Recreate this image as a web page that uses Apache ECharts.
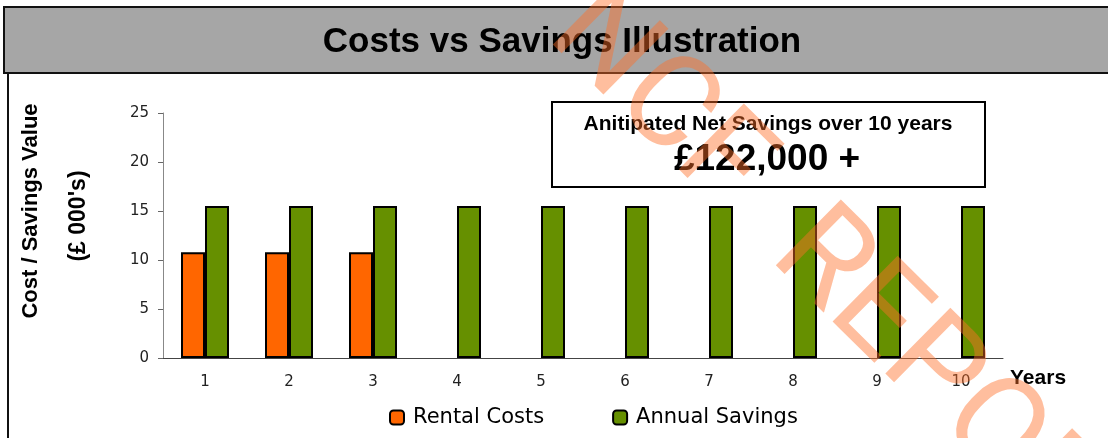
<!DOCTYPE html>
<html>
<head>
<meta charset="utf-8">
<script src="https://cdn.jsdelivr.net/npm/echarts@6/dist/echarts.min.js"></script>
<style>
  html, body { margin: 0; padding: 0; background: #fff; }
  #main { width: 1108px; height: 438px; }
</style>
</head>
<body>
<div id="main"></div>
<script>
// data (values in £ 000's)
var years = ['1', '2', '3', '4', '5', '6', '7', '8', '9', '10'];
var rentalCosts = [10.8, 10.8, 10.8, null, null, null, null, null, null, null];
var annualSavings = [15.5, 15.5, 15.5, 15.5, 15.5, 15.5, 15.5, 15.5, 15.5, 15.5];
var yTicks = [0, 5, 10, 15, 20, 25];

var orange = '#ff6600';
var green = '#669000';

var myChart = echarts.init(document.getElementById('main'));
myChart.setOption({
  backgroundColor: '#fff',
  animation: false,
  grid: { left: 163, right: 105, top: 113, bottom: 80 },
  legend: {
    left: 384,
    top: 402,
    itemWidth: 14,
    itemHeight: 14,
    itemGap: 68,
    textStyle: { fontFamily: 'DejaVu Sans', fontSize: 21, color: '#000', padding: [0, 0, 0, 4] },
    data: ['Rental Costs', 'Annual Savings']
  },
  xAxis: {
    type: 'category',
    data: years,
    axisLine: { lineStyle: { color: '#444', width: 1 } },
    axisTick: { length: 5, lineStyle: { color: '#666' } },
    axisLabel: { margin: 17, fontFamily: 'DejaVu Sans', fontSize: 15, color: '#222' }
  },
  yAxis: {
    type: 'value',
    min: yTicks[0],
    max: yTicks[yTicks.length - 1],
    interval: 5,
    axisLine: { show: true, lineStyle: { color: '#888' } },
    axisTick: { show: true, length: 5, lineStyle: { color: '#666' } },
    splitLine: { show: false },
    axisLabel: { margin: 14, fontFamily: 'DejaVu Sans', fontSize: 15, color: '#222' }
  },
  series: [
    {
      name: 'Rental Costs',
      type: 'bar',
      data: rentalCosts,
      barWidth: 24,
      barGap: '0%',
      itemStyle: { color: orange, borderColor: '#000', borderWidth: 2 }
    },
    {
      name: 'Annual Savings',
      type: 'bar',
      data: annualSavings,
      barWidth: 24,
      itemStyle: { color: green, borderColor: '#000', borderWidth: 2 }
    }
  ],
  graphic: [
    // title band
    { type: 'rect', z: 1, shape: { x: 4, y: 7, width: 1110, height: 66 },
      style: { fill: '#a6a6a6', stroke: '#111', lineWidth: 2 } },
    { type: 'line', z: 1, shape: { x1: 8, y1: 73, x2: 8, y2: 440 },
      style: { stroke: '#111', lineWidth: 2 } },
    { type: 'text', z: 2, x: 562, y: 42,
      style: { text: 'Costs vs Savings Illustration', fill: '#000',
        font: 'bold 35px "Liberation Sans"', align: 'center', verticalAlign: 'middle' } },
    // axis names
    { type: 'text', z: 2, x: 31, y: 211, rotation: Math.PI / 2,
      style: { text: 'Cost / Savings Value', fill: '#000',
        font: 'bold 22px "Liberation Sans"', align: 'center', verticalAlign: 'middle' } },
    { type: 'text', z: 2, x: 79, y: 216, rotation: Math.PI / 2,
      style: { text: "(£ 000's)", fill: '#000',
        font: 'bold 23px "Liberation Sans"', align: 'center', verticalAlign: 'middle' } },
    { type: 'text', z: 2, x: 1010, y: 378,
      style: { text: 'Years', fill: '#000',
        font: 'bold 21px "Liberation Sans"', align: 'left', verticalAlign: 'middle' } },
    // savings box
    { type: 'rect', z: 3, shape: { x: 552, y: 102, width: 433, height: 85 },
      style: { fill: '#fff', stroke: '#000', lineWidth: 2 } },
    { type: 'text', z: 4, x: 768, y: 124,
      style: { text: 'Anitipated Net Savings over 10 years', fill: '#000',
        font: 'bold 21px "Liberation Sans"', align: 'center', verticalAlign: 'middle' } },
    { type: 'text', z: 4, x: 767, y: 160,
      style: { text: '£122,000 +', fill: '#000',
        font: 'bold 37px "Liberation Sans"', align: 'center', verticalAlign: 'middle' } },
    // watermark
    { type: 'text', z: 100, x: 568, y: 14, rotation: -0.78,
      style: { text: 'NCF  REPORT', fill: 'rgba(255,110,40,0.45)',
        font: '400 130px Roboto', align: 'left', verticalAlign: 'middle' } }
  ]
});
</script>
</body>
</html>
